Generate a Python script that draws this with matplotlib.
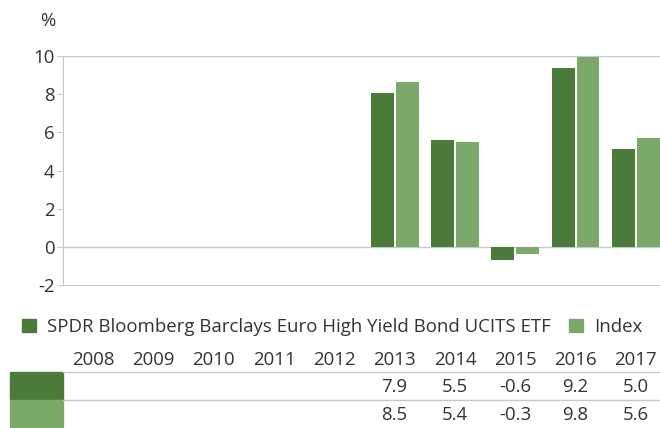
import numpy as np
import matplotlib.pyplot as plt
from matplotlib.patches import Rectangle, Patch
from matplotlib.transforms import blended_transform_factory

plt.rcParams['font.family'] = ['Open Sans', 'DejaVu Sans']
plt.rcParams['axes.unicode_minus'] = False

years = ['2008', '2009', '2010', '2011', '2012', '2013', '2014', '2015', '2016', '2017']
# bar heights as drawn in the chart
fund_bars = [np.nan, np.nan, np.nan, np.nan, np.nan, 8.07, 5.6, -0.67, 9.38, 5.12]
index_bars = [np.nan, np.nan, np.nan, np.nan, np.nan, 8.64, 5.5, -0.35, 9.97, 5.7]
# values printed in the table below
fund_table = ['', '', '', '', '', '7.9', '5.5', '-0.6', '9.2', '5.0']
index_table = ['', '', '', '', '', '8.5', '5.4', '-0.3', '9.8', '5.6']
fund_name = 'SPDR Bloomberg Barclays Euro High Yield Bond UCITS ETF'
index_name = 'Index'

dark = '#4a7b3b'
light = '#7aa96a'
grey = '#c8c8c8'
txt = '#333333'
fs = 13.4

W, H = 660, 428
fig = plt.figure(figsize=(W / 100, H / 100), dpi=100)
ax = fig.add_axes([63 / W, 1 - 285 / H, 603 / W, 229 / H])

x = np.arange(len(years))
ax.bar(x - 0.207, fund_bars, width=0.38, color=dark, zorder=3)
ax.bar(x + 0.207, index_bars, width=0.38, color=light, zorder=3)

ax.set_xlim(-0.5, 9.5)
ax.set_ylim(-2, 10)
ax.set_yticks(np.arange(-2, 11, 2))
ax.set_xticks([])
for s in ['top', 'right']:
    ax.spines[s].set_visible(False)
ax.spines['left'].set_color(grey)
ax.spines['bottom'].set_color(grey)
ax.axhline(0, color=grey, lw=1, zorder=2)
ax.axhline(10, color=grey, lw=1, zorder=2)
ax.tick_params(axis='y', colors=grey, labelcolor=txt, labelsize=fs, length=4, pad=2)
fig.text(40 / W, 1 - 21 / H, '%', fontsize=fs, color=txt, va='center', ha='left')

# legend
handles = [Patch(color=dark), Patch(color=light)]
fig.legend(handles, [fund_name, index_name], loc='center left',
           bbox_to_anchor=(5 / W, 1 - 327 / H), ncol=2, frameon=False,
           fontsize=fs, handlelength=0.75, handleheight=0.75,
           handletextpad=0.6, columnspacing=1.0, labelcolor=txt)

# data table under the chart
tr = blended_transform_factory(ax.transData, fig.transFigure)
for i, y in enumerate(years):
    fig.text(x[i], 1 - 360 / H, y, transform=tr, ha='center', va='center', fontsize=fs, color=txt)
    fig.text(x[i], 1 - 387 / H, fund_table[i], transform=tr, ha='center', va='center', fontsize=fs, color=txt)
    fig.text(x[i], 1 - 415 / H, index_table[i], transform=tr, ha='center', va='center', fontsize=fs, color=txt)

fig.patches.append(Rectangle((10 / W, 1 - 400 / H), 53 / W, 28 / H, transform=fig.transFigure, color=dark))
fig.patches.append(Rectangle((10 / W, 1 - 428 / H), 53 / W, 28 / H, transform=fig.transFigure, color=light))
for yy in [372, 400]:
    fig.add_artist(plt.Line2D([63 / W, 1], [1 - yy / H, 1 - yy / H], transform=fig.transFigure, color=grey, lw=1))

fig.savefig('out.png', dpi=100)
